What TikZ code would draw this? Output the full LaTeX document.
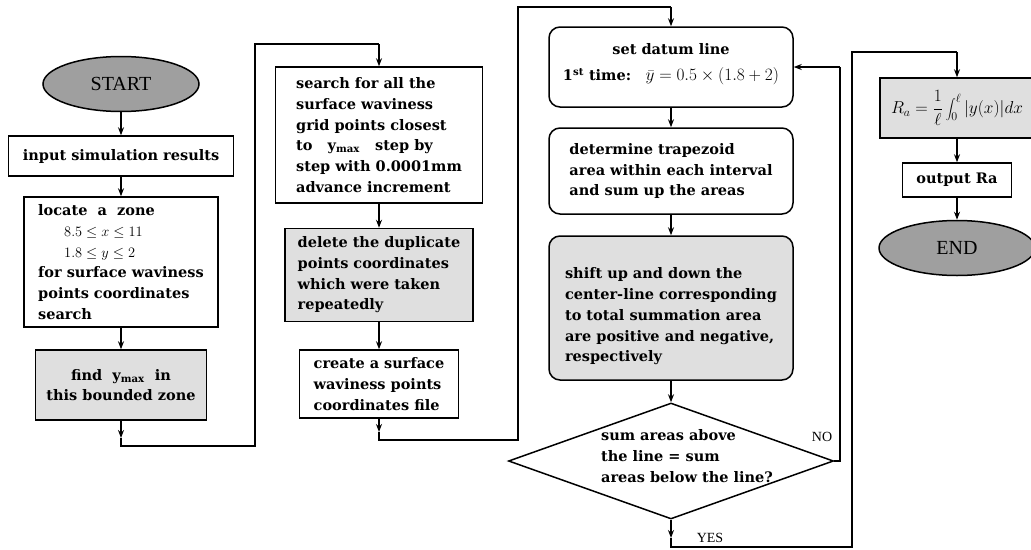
\documentclass[tikz,border=0pt]{standalone}
\usepackage{fontspec}
\setmainfont{DejaVu Serif}
\newfontfamily\termfont{Liberation Serif}
\usepackage{xcolor}
\usepackage{tikz}
\usetikzlibrary{shapes,shapes.geometric}
\usetikzlibrary{calc,arrows.meta}
\newcommand{\ymax}{y\textsubscript{max}}
\newcommand{\bigmath}{\fontsize{17.28}{20}\selectfont}

\begin{document}
\begin{tikzpicture}
[x=1pt,y=-1pt,line width=1.5pt,
every node/.style={font=\bfseries\fontsize{14.5}{20.7}\selectfont,inner sep=0pt},
box/.style={draw,rectangle,align=left},
rbox/.style={box,rounded corners=11pt},
shade/.style={fill=gray!25},
term/.style={draw,ellipse,fill=gray!75,minimum width=156pt,minimum height=55pt,
	font=\termfont\fontsize{20}{24}\selectfont},
decision/.style={draw,diamond,minimum width=325pt,minimum height=116pt},
flow/.style={-{Stealth[length=8pt,width=6pt]}},
tag/.style={font=\termfont\fontsize{14}{16}\selectfont}]
\useasboundingbox (0,0) rectangle (1031,549);
%% first column
\node[term] (start) at (121,84) {START};
\node[box,minimum width=225pt,minimum height=40pt] (input) at (121,156) {input simulation results};
\node[box,minimum width=194pt,minimum height=130pt] (locate) at (121,262)
{locate\ \ a\ \ zone\\
	\hspace*{26pt}$8.5\le x\le 11$\\
	\hspace*{26pt}$1.8\le y\le 2$\\
	for surface waviness\\
	points coordinates\\
	search};
\node[box,shade,minimum width=171pt,minimum height=70pt,align=center] (find) at (121,385)
{find\ \ \ymax\ \ in\\this bounded zone};
%% second column
\node[box,minimum width=207pt,minimum height=136pt] (search) at (379,135)
{search for all the\\
	surface waviness\\
	grid points closest\\
	to\ \ \ \ymax\ \ \ step by\\
	step with 0.0001mm\\
	advance increment};
\node[box,shade,minimum width=188pt,minimum height=93pt] (delete) at (379,275)
{delete the duplicate\\
	points coordinates\\
	which were taken\\
	repeatedly};
\node[box,minimum width=159pt,minimum height=68pt] (create) at (379,384)
{create a surface\\
	waviness points\\
	coordinates file};
%% third column
\node[rbox,minimum width=244pt,minimum height=80pt,align=center] (datum) at (671,67)
{set datum line\\[5pt]
	1\textsuperscript{st} time:\quad{\bigmath$\bar{y}=0.5\times(1.8+2)$}\rule[-10pt]{0pt}{10pt}};
\node[rbox,minimum width=244pt,minimum height=86pt] (determine) at (671,171)
{determine trapezoid\\
	area within each interval\\
	and sum up the areas};
\node[rbox,shade,minimum width=244pt,minimum height=144pt] (shift) at (671,308)
{\rule{0pt}{28pt}shift up and down the\\
	center-line corresponding\\
	to total summation area\\
	are positive and negative,\\
	respectively};
\node[decision] (dec) at (671,461) {};
\node[align=left] (dectext) at (687,456)
{sum areas above\\
	the line = sum\\
	areas below the line?};
\node[tag] (no) at (822,437) {NO};
\node[tag] (yes) at (710,538) {YES};
%% fourth column
\node[box,shade,minimum width=154pt,minimum height=60pt] (ra) at (957,108)
{\bigmath$\displaystyle R_a=\frac{1}{\ell}\int_0^{\ell}|y(x)|dx$};
\node[box,minimum width=109pt,minimum height=34pt] (out) at (957,180) {output Ra};
\node[term] (finish) at (957,248) {END};
%% bends
\coordinate (c1a) at (121,438);
\coordinate (c1) at (121,446);
\coordinate (c2) at (255,446);
\coordinate (c3) at (255,44);
\coordinate (c4) at (379,44);
\coordinate (c5a) at (379,432);
\coordinate (c5) at (379,440);
\coordinate (c6) at (518,440);
\coordinate (c7) at (518,7);
\coordinate (c8) at (671,7);
\coordinate (c9a) at (671,538);
\coordinate (c9) at (671,547);
\coordinate (c10) at (852,547);
\coordinate (c11) at (852,52);
\coordinate (c12) at (957,52);
\coordinate (n1) at (840,461);
\coordinate (n2) at (840,67);
\path
\foreach \startNode/\endNode in {start/input,input/locate,locate/find,search/delete,delete/create,
	datum/determine,determine/shift,shift/dec,ra/out,out/finish}
{
	(\startNode) edge[flow] (\endNode)
};
\draw[flow] (find) -- (c1a);
\draw (c1a) -- (c1) -- (c2) -- (c3) -- (c4);
\draw[flow] (c4) -- (search);
\draw[flow] (create) -- (c5a);
\draw (c5a) -- (c5) -- (c6) -- (c7) -- (c8);
\draw[flow] (c8) -- (datum);
\draw[flow] (dec.south) -- (c9a);
\draw (c9a) -- (c9) -- (c10) -- (c11) -- (c12);
\draw[flow] (c12) -- (ra);
\draw (dec.east) -- (n1) -- (n2);
\draw[flow] (n2) -- (datum.east);
\end{tikzpicture}
\end{document}
